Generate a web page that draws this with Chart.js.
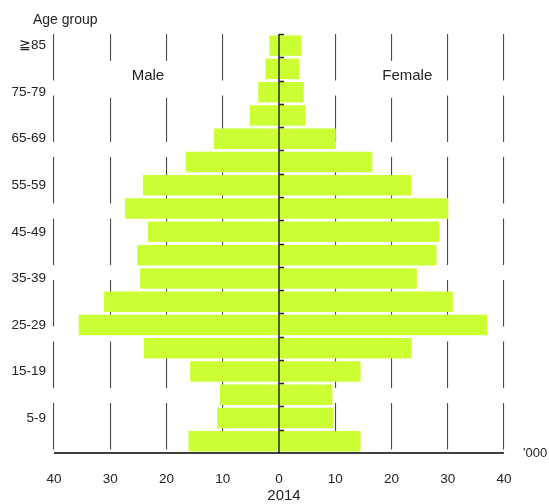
<!DOCTYPE html>
<html>
<head>
<meta charset="utf-8">
<title>Population pyramid 2014</title>
<script src="https://cdn.jsdelivr.net/npm/chart.js@4.4.1/dist/chart.umd.min.js"></script>
<style>
  html, body { margin: 0; padding: 0; background: #fff; }
  #wrap { width: 549px; height: 504px; position: relative; }
</style>
</head>
<body>
<div id="wrap"><canvas id="chartPyramid"></canvas></div>
<script>
// ── Data ──────────────────────────────────────────────────────────────────────
const ageGroups = ['≧85', '80-84', '75-79', '70-74', '65-69', '60-64', '55-59', '50-54', '45-49',
                   '40-44', '35-39', '30-34', '25-29', '20-24', '15-19', '10-14', '5-9', '0-4'];
const male   = [1.7, 2.4, 3.7, 5.2, 11.6, 16.6, 24.2, 27.4, 23.3, 25.2, 24.7, 31.1, 35.6, 24.0, 15.8, 10.5, 11.0, 16.1];
const female = [4.0, 3.6, 4.4, 4.7, 10.1, 16.6, 23.5, 30.1, 28.5, 28.0, 24.5, 30.9, 37.0, 23.6, 14.5, 9.5, 9.7, 14.5];
const xTicks = [-40, -30, -20, -10, 0, 10, 20, 30, 40];

// ── Config ────────────────────────────────────────────────────────────────────
const FONT = "'Liberation Sans', Arial, sans-serif";
const BAR = '#CCFF33';
const INK = '#222222';
Chart.defaults.font.family = FONT;
Chart.defaults.color = INK;

const $ = id => document.getElementById(id);

// labels, axis and boxes drawn on top of the chart
const pyramidDeco = {
    id: 'pyramidDeco',
    afterDatasetsDraw(chart) {
        const { ctx, chartArea: a, scales: { x, y } } = chart;
        const cx = x.getPixelForValue(0);
        const pitch = Math.abs(y.getPixelForValue(1) - y.getPixelForValue(0));

        ctx.save();
        // centre axis + ticks at each band edge
        ctx.strokeStyle = INK;
        ctx.lineWidth = 1.5;
        ctx.beginPath();
        ctx.moveTo(cx, a.top);
        ctx.lineTo(cx, a.bottom);
        for (let i = 0; i < ageGroups.length; i++) {
            const ty = Math.round(y.getPixelForValue(i) - pitch / 2) + 0.5;
            ctx.moveTo(cx, ty);
            ctx.lineTo(cx + 5, ty);
        }
        ctx.stroke();

        // bottom axis line
        ctx.strokeStyle = '#000';
        ctx.lineWidth = 1.5;
        ctx.beginPath();
        ctx.moveTo(a.left, a.bottom);
        ctx.lineTo(a.right, a.bottom);
        ctx.stroke();

        // Male / Female headers on white boxes
        const hy = y.getPixelForValue(1) + 7;
        ctx.font = `15px ${FONT}`;
        ctx.textBaseline = 'middle';
        ctx.textAlign = 'center';
        const heads = [
            { text: 'Male',   at: -23.3, padL: 24, padR: 6 },
            { text: 'Female', at: 22.8,  padL: 10, padR: 8 }
        ];
        heads.forEach(h => {
            const hx = x.getPixelForValue(h.at);
            const w = ctx.measureText(h.text).width;
            ctx.fillStyle = '#fff';
            ctx.fillRect(hx - w / 2 - h.padL, hy - 15, w + h.padL + h.padR, 37);
            ctx.fillStyle = INK;
            ctx.fillText(h.text, hx, hy);
        });

        // corner texts
        ctx.font = `14px ${FONT}`;
        ctx.textAlign = 'left';
        ctx.fillText('Age group', 33, 20);
        ctx.font = `13px ${FONT}`;
        ctx.fillText("'000", a.right + 19, a.bottom);
        ctx.font = `15px ${FONT}`;
        ctx.textAlign = 'center';
        ctx.fillText('2014', cx + 5, a.bottom + 43);
        ctx.restore();
    }
};

// ── Chart ─────────────────────────────────────────────────────────────────────
new Chart($('chartPyramid'), {
    type: 'bar',
    data: {
        labels: ageGroups,
        datasets: [
            { label: 'Male',   data: male.map(v => -v), backgroundColor: BAR, borderWidth: 0 },
            { label: 'Female', data: female,            backgroundColor: BAR, borderWidth: 0 }
        ]
    },
    options: {
        indexAxis: 'y',
        responsive: true, maintainAspectRatio: false,
        animation: false,
        layout: { padding: { top: 34, right: 45, bottom: 0, left: 0 } },
        plugins: { legend: { display: false }, tooltip: { enabled: false } },
        datasets: { bar: { barPercentage: 0.88, categoryPercentage: 1 } },
        scales: {
            x: {
                type: 'linear', stacked: true,
                min: xTicks[0], max: xTicks[xTicks.length - 1],
                afterBuildTicks: s => { s.ticks = xTicks.map(v => ({ value: v })); },
                afterFit: s => { s.height = 51; },
                ticks: {
                    callback: v => Math.abs(v),
                    font: { size: 13.5 }, color: INK, padding: 18, maxRotation: 0
                },
                grid: {
                    drawTicks: false,
                    color: c => (c.tick && c.tick.value === 0) ? 'rgba(0,0,0,0)' : '#4a4a4a',
                    lineWidth: 1.1
                },
                border: { display: false, dash: [46.5, 15] }
            },
            y: {
                stacked: true,
                afterFit: s => { s.width = 54; },
                ticks: {
                    autoSkip: false,
                    callback: (v, i) => (i % 2 === 0 ? ageGroups[i] : ''),
                    font: { size: 13.5 }, color: INK, padding: 8
                },
                grid: { display: false, drawTicks: false },
                border: { display: false }
            }
        }
    },
    plugins: [pyramidDeco]
});
</script>
</body>
</html>
